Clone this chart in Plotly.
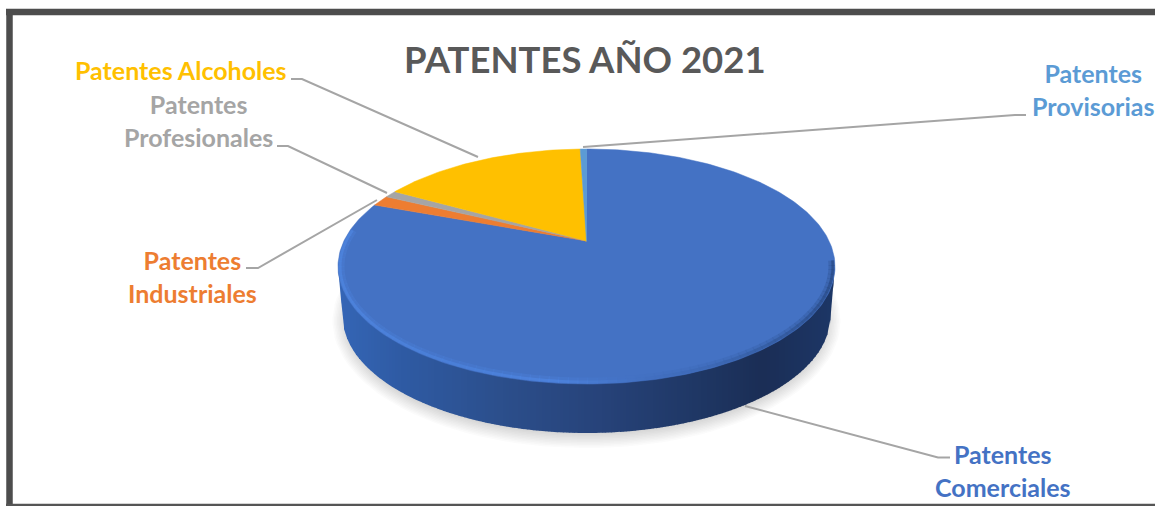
import numpy as np
import plotly.graph_objects as go

# Chart data (share of patents, %)
categories = ['Patentes Comerciales', 'Patentes Industriales', 'Patentes Profesionales',
              'Patentes Alcoholes', 'Patentes Provisorias']
values = [80.6, 1.5, 1.0, 16.4, 0.5]
colors = ['#4472C4', '#ED7D31', '#A5A5A5', '#FFC000', '#5B9BD5']
title_text = 'PATENTES AÑO 2021'
label_text = ['Patentes<br>Comerciales', 'Patentes<br>Industriales', 'Patentes<br>Profesionales',
              'Patentes Alcoholes', 'Patentes<br>Provisorias']

# Tilted disc: the axes run in picture pixels, the pie is projected onto them
APEX_X, APEX_Y = 586.5, 241
A, B, K = 242.6, 112, 0.217
CX, CY, RX, RY = 586.5, 266.5, 248.5, 117.5
BCY, BRX, BRY = 316, 244, 117


def project(theta):
    u, v = np.sin(theta), -np.cos(theta)
    d = 1 - K * v
    return APEX_X + A * u / d, APEX_Y + B * v / d


def mix(stops, x):
    xs = [s[0] for s in stops]
    rgb = [np.interp(x, xs, [int(s[1][i:i + 2], 16) for s in stops]) for i in (1, 3, 5)]
    return 'rgb(%d,%d,%d)' % tuple(rgb)


fig = go.Figure()

# Soft shadow under the disc
for i in range(10):
    t = np.linspace(0, 2 * np.pi, 120)
    grow = 12 - i * 1.5
    fig.add_trace(go.Scatter(x=CX + (BRX + grow - 2) * np.cos(t), y=BCY + 5 + (BRY + grow - 2) * np.sin(t),
                             mode='lines', fill='toself', line={'width': 0},
                             fillcolor='rgba(90,90,90,0.024)', hoverinfo='skip'))

# Side wall of the disc, shaded left to right
side_stops = [(338, '#3566B6'), (400, '#2F5BA4'), (500, '#2C4F8C'), (600, '#27437A'),
              (700, '#1F3764'), (760, '#1B2E56'), (835, '#1D3767')]
for x0 in np.arange(CX - RX, CX + RX, 3.0):
    xs = np.array([x0, min(x0 + 3.4, CX + RX)])
    dx = np.abs(xs - CX)
    root = np.sqrt(np.clip(1 - (dx / RX) ** 2, 0, 1))
    top = CY + RY * root
    bottom = BCY + BRY * np.sqrt(np.clip(1 - (dx / BRX) ** 2, 0, 1))
    # outside the base ellipse the wall tapers back up to the rim
    bottom = np.where(dx > BRX, CY + (RX - dx) / (RX - BRX) * (BCY - CY), bottom)
    fig.add_trace(go.Scatter(x=[xs[0], xs[1], xs[1], xs[0]],
                             y=[top[0] - 6 * root[0], top[1] - 6 * root[1], bottom[1], bottom[0]],
                             mode='lines', fill='toself', line={'width': 0},
                             fillcolor=mix(side_stops, x0), hoverinfo='skip'))

# Top face: one wedge per category, clockwise from twelve o'clock
edges = np.cumsum([0] + values) / sum(values) * 2 * np.pi
for name, color, start, end in zip(categories, colors, edges[:-1], edges[1:]):
    t = np.linspace(start, end, max(3, int((end - start) * 60)))
    px, py = project(t)
    fig.add_trace(go.Scatter(x=np.r_[APEX_X, px, APEX_X], y=np.r_[APEX_Y, py, APEX_Y], name=name,
                             mode='lines', fill='toself', line={'width': 0.5, 'color': color},
                             fillcolor=color, hoverinfo='name'))

# Bevel on the front rim of the top face
rim_stops = [(338, '#4F86E0'), (450, '#4C82DC'), (560, '#4F86E2'), (640, '#4472C4'),
             (720, '#3C67B2'), (790, '#32589A'), (835, '#2A4C88')]
phi = np.radians(np.linspace(-3, 198, 90))
for width, inset, opacity in [(5, 4, 0.3), (3, 2, 0.75)]:
    for p0, p1 in zip(phi[:-1], phi[1:]):
        p = np.array([p0, p1 + 0.005])
        fig.add_trace(go.Scatter(x=CX + (RX - inset) * np.cos(p), y=CY + (RY - inset) * np.sin(p),
                                 mode='lines', opacity=opacity, hoverinfo='skip',
                                 line={'width': width, 'color': mix(rim_stops, CX + RX * np.cos(p0))}))

# Leader lines
leaders = [
    ([950, 938, 745], [457.5, 457.5, 406]),
    ([246, 258, 377], [268, 268, 200]),
    ([277, 288, 387], [146, 146, 193]),
    ([291, 302, 478], [79, 79, 157]),
    ([1026, 1015, 583], [115, 115, 147]),
]
for lx, ly in leaders:
    fig.add_trace(go.Scatter(x=lx, y=ly, mode='lines', line={'width': 2, 'color': '#A5A5A5'}, hoverinfo='skip'))

# Data labels
label_pos = [(1003, 470), (192, 276), (198, 120.5), (181, 70), (1093, 89)]
annotations = [
    {'x': x, 'y': y, 'text': text, 'showarrow': False, 'xanchor': 'center', 'yanchor': 'middle',
     'font': {'family': 'Lato', 'size': 25, 'weight': 700, 'color': color}}
    for (x, y), text, color in zip(label_pos, label_text, colors)
]
annotations.append({'x': 585, 'y': 59, 'text': title_text, 'showarrow': False, 'xanchor': 'center',
                    'yanchor': 'middle', 'font': {'family': 'Lato', 'size': 36.5, 'weight': 700, 'color': '#595959'}})

# Chart frame, cut off by the right edge of the picture
frame = [
    {'type': 'line', 'x0': 9.5, 'x1': 9.5, 'y0': 9, 'y1': 506, 'line': {'width': 6.5, 'color': '#4D4D4D'}},
    {'type': 'line', 'x0': 6, 'x1': 1155, 'y0': 12, 'y1': 12, 'line': {'width': 6.5, 'color': '#4D4D4D'}},
    {'type': 'line', 'x0': 6, 'x1': 1155, 'y0': 505, 'y1': 505, 'line': {'width': 2.5, 'color': '#555555'}},
]

fig.update_layout(
    width=1155, height=506, showlegend=False, margin={'l': 0, 'r': 0, 't': 0, 'b': 0},
    paper_bgcolor='white', plot_bgcolor='white', shapes=frame, annotations=annotations,
    xaxis={'range': [0, 1155], 'visible': False, 'fixedrange': True},
    yaxis={'range': [506, 0], 'visible': False, 'fixedrange': True},
)

# The page's default body margin would push the chart 8px in
fig.write_html('out.html', config={'displayModeBar': False},
               post_script="document.body.style.margin='0';document.body.style.overflow='hidden';")
